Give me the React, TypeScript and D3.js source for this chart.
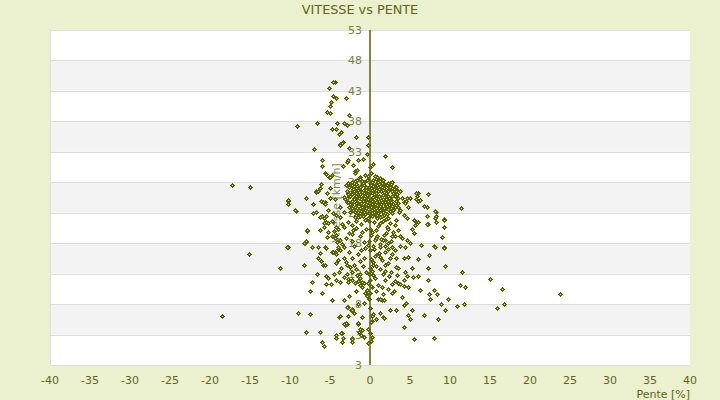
import { useEffect } from "react";
import * as d3 from "d3";

type Pt = [number, number]; // [pente %, vitesse km/h]

const xTickValues = [-40, -35, -30, -25, -20, -15, -10, -5, 0, 5, 10, 15, 20, 25, 30, 35, 40];
const yTickValues = [-2, 3, 8, 13, 18, 23, 28, 33, 38, 43, 48, 53];
const yTickLabels = ["3", "3", "8", "13", "18", "23", "28", "33", "38", "43", "48", "53"];

// dense core around 0% slope
const corePoints: Pt[] = [
  [-2.4, 27.8], [-1.9, 28.2], [-1.3, 28.5], [-0.7, 28.1], [-0.2, 28.6], [0.4, 28.3], [1.0, 28.0], [1.6, 28.4], [2.2, 27.9],
  [-2.6, 27.2], [-2.0, 27.4], [-1.5, 27.0], [-1.0, 27.5], [-0.5, 27.2], [0.1, 27.6], [0.6, 27.1], [1.2, 27.4], [1.8, 27.0], [2.5, 27.3], [3.0, 26.9],
  [-2.3, 26.6], [-1.8, 26.3], [-1.2, 26.7], [-0.8, 26.2], [-0.3, 26.5], [0.3, 26.8], [0.8, 26.3], [1.4, 26.6], [2.0, 26.2], [2.7, 26.5],
  [-2.5, 25.8], [-2.0, 25.5], [-1.4, 25.9], [-0.9, 25.6], [-0.4, 25.9], [0.2, 25.4], [0.7, 25.8], [1.3, 25.5], [1.9, 25.9], [2.4, 25.4], [3.1, 25.7],
  [-2.2, 25.0], [-1.6, 24.8], [-1.1, 25.2], [-0.6, 24.9], [0.0, 25.1], [0.5, 24.7], [1.1, 25.0], [1.7, 24.6], [2.3, 24.9], [2.9, 24.5],
  [-2.4, 24.2], [-1.9, 24.0], [-1.3, 24.4], [-0.8, 24.1], [-0.2, 24.3], [0.4, 23.9], [0.9, 24.2], [1.5, 23.8], [2.1, 24.1], [2.6, 23.7],
  [-2.1, 23.4], [-1.5, 23.2], [-1.0, 23.6], [-0.4, 23.3], [0.2, 23.5], [0.8, 23.1], [1.3, 23.4], [1.9, 23.0], [2.5, 23.3],
  [-1.8, 22.6], [-1.2, 22.4], [-0.6, 22.8], [0.0, 22.5], [0.6, 22.7], [1.2, 22.3], [1.7, 22.6], [2.3, 22.2],
  [-1.7, 27.7], [-0.9, 27.9], [0.0, 27.9], [0.8, 27.7], [1.5, 27.8], [-2.1, 26.9], [-1.4, 26.4], [-0.6, 26.9], [0.5, 26.5], [1.1, 26.9], [1.7, 26.4], [2.3, 26.8],
  [-1.7, 25.3], [-0.7, 25.4], [0.4, 25.6], [1.0, 25.3], [1.6, 25.2], [2.6, 25.1], [-1.6, 24.4], [-0.5, 24.5], [0.6, 24.4], [1.2, 24.6], [2.0, 24.4],
  [-1.3, 23.8], [-0.7, 23.7], [0.5, 23.6], [1.1, 23.8], [1.7, 23.5], [-0.9, 22.9], [0.3, 23.0], [0.9, 22.6], [-2.7, 24.7], [-2.8, 26.0],
  [3.3, 24.2], [3.4, 26.1], [2.8, 28.0], [-3.0, 27.6], [-3.1, 25.2], [3.6, 23.2],
  [4.4, 24.55], [5.0, 25.5], [4.0, 25.5], [3.5, 24.0], [4.5, 25.0], [3.3, 27.3], [3.8, 26.5], [5.7, 25.2], [6.0, 24.9], [5.8, 26.2],
];

const coreDense: Pt[] = [
  [-2.2, 28.0], [-1.6, 28.3], [-1.0, 28.2], [-0.4, 28.4], [0.2, 28.1], [0.7, 28.5], [1.3, 28.2], [1.9, 27.6], [2.6, 27.7],
  [-2.3, 27.5], [-1.8, 27.1], [-1.2, 27.2], [-0.7, 27.6], [-0.1, 27.3], [0.4, 27.4], [0.9, 27.5], [1.5, 27.2], [2.1, 27.5], [2.8, 27.1],
  [-2.0, 26.6], [-1.5, 26.8], [-1.0, 26.4], [-0.5, 26.7], [0.0, 26.4], [0.5, 26.9], [1.0, 26.6], [1.6, 26.8], [2.2, 26.5], [2.9, 26.3],
  [-2.3, 26.1], [-1.7, 25.8], [-1.2, 26.1], [-0.6, 25.8], [-0.1, 26.1], [0.5, 26.1], [1.1, 25.8], [1.6, 25.9], [2.2, 25.7], [2.8, 25.8],
  [-2.0, 25.2], [-1.4, 25.4], [-0.9, 25.0], [-0.3, 25.3], [0.3, 25.0], [0.8, 25.4], [1.4, 25.1], [2.0, 25.2], [2.6, 24.8], [3.2, 25.0],
  [-2.5, 24.5], [-1.8, 24.6], [-1.1, 24.6], [-0.4, 24.7], [0.2, 24.5], [0.8, 24.8], [1.4, 24.4], [1.9, 24.7], [2.4, 24.3], [3.0, 24.0],
  [-2.2, 23.8], [-1.6, 23.7], [-1.0, 24.0], [-0.5, 23.8], [0.1, 24.0], [0.7, 23.7], [1.2, 24.1], [1.8, 23.8], [2.3, 23.6], [2.9, 23.5],
  [-1.9, 23.1], [-1.3, 23.0], [-0.7, 23.2], [-0.1, 23.0], [0.5, 23.2], [1.0, 22.9], [1.6, 23.2], [2.1, 22.8], [2.7, 22.9],
  [-1.5, 22.3], [-0.9, 22.5], [-0.3, 22.2], [0.3, 22.4], [0.9, 22.2], [1.5, 22.4], [2.0, 22.0],
  [-2.7, 27.9], [-2.9, 26.6], [-2.9, 25.5], [-2.6, 23.9], [3.5, 25.5], [3.2, 26.6], [3.1, 23.9], [3.5, 24.6], [-0.3, 29.0], [0.6, 29.1], [1.2, 28.7],
];

const axisPoints: Pt[] = [
  [0.0, 30.5], [0.1, 29.6], [-0.1, 21.6], [0.0, 20.4], [0.1, 19.4], [-0.1, 18.3], [0.0, 16.8], [0.1, 15.4], [0.0, 14.0],
  [-0.1, 12.9], [0.0, 11.9], [0.1, 10.9], [0.0, 9.9], [-0.1, 8.8], [0.0, 7.4], [0.1, 5.1], [0.0, 3.3], [-0.2, 1.6],
];

const upperPoints: Pt[] = [
  [1.9, 32.3], [0.4, 31.0], [2.8, 30.5], [-4.4, 44.5], [-4.6, 44.4], [-5.1, 43.4], [-4.6, 42.2], [-4.3, 41.8], [-4.9, 41.2],
  [-5.0, 40.6], [-3.0, 41.8], [-5.4, 39.6], [-5.0, 39.4], [-2.6, 39.0], [-9.1, 37.3], [-6.6, 37.7], [-4.1, 37.8], [-3.2, 37.7],
  [-2.9, 37.4], [-4.8, 36.7], [-4.3, 36.8], [-3.6, 36.2], [-3.9, 36.0], [-1.8, 35.4], [-0.2, 35.5], [-3.4, 34.6], [-3.75, 34.3],
  [-7.0, 33.4], [-2.6, 33.6], [-0.25, 34.1], [-0.4, 32.6], [-0.9, 31.9], [-1.5, 31.6], [-2.75, 31.6], [-6.0, 31.7], [-6.0, 30.7],
  [-2.1, 30.8], [-1.6, 30.0], [-2.9, 31.3], [-3.4, 30.7], [-5.6, 29.5], [-5.1, 28.8], [-1.9, 29.8], [-0.6, 29.2], [-3.8, 34.1],
  [-3.5, 34.5], [-5.5, 29.3], [-4.8, 29.2], [-5.0, 28.9], [0.9, 28.8], [-1.9, 29.5], [-1.25, 28.9],
];

const leftPoints: Pt[] = [
  [-6.1, 27.7], [-6.7, 26.4], [-5.0, 27.1], [-17.2, 27.5], [-15.0, 27.3], [-8.0, 25.5], [-10.2, 25.0], [-10.3, 24.4], [-7.1, 24.4],
  [-6.1, 24.9], [-5.6, 24.8], [-5.0, 25.5], [-4.4, 25.2], [-5.4, 26.3], [-9.3, 23.3], [-6.7, 23.2], [-6.0, 22.5], [-5.5, 22.4],
  [-5.75, 21.3], [-5.2, 21.3], [-4.6, 21.5], [-7.9, 20.0], [-5.2, 19.9], [-5.4, 19.0], [-4.7, 19.1], [-3.5, 21.1], [-4.25, 19.3],
  [-8.0, 18.2], [-8.1, 18.0], [-10.3, 17.3], [-15.1, 16.2], [-7.3, 17.3], [-6.5, 17.3], [-5.6, 17.3], [-6.25, 16.4], [-4.7, 16.6],
  [-4.4, 16.6], [-4.0, 17.0], [-6.5, 15.5], [-6.1, 15.0], [-5.9, 14.4], [-5.6, 14.4], [-8.3, 14.4], [-11.3, 14.0], [-4.0, 15.2],
  [-2.9, 14.4], [-6.6, 12.9], [-5.5, 12.6], [-4.5, 12.9], [-3.9, 13.3], [-3.25, 12.5], [-5.2, 12.3], [-7.3, 11.6], [-4.2, 11.9],
  [-3.75, 11.6], [-5.5, 11.3], [-4.9, 11.3], [-6.0, 9.8], [-7.5, 10.1], [-2.8, 11.7], [-4.7, 8.7], [-3.3, 8.7], [-2.8, 7.6],
  [-2.3, 7.2], [-9.0, 6.6], [-7.5, 6.3], [-18.5, 6.0], [-3.85, 5.9], [-2.8, 6.0], [-3.1, 4.6], [-2.9, 4.8], [-1.5, 4.8],
  [-8.0, 3.4], [-6.3, 3.4], [-4.3, 2.9], [-3.5, 3.3], [-3.4, 2.5], [-2.3, 2.5], [-6.0, 1.7], [-5.8, 1.1], [-1.1, 2.9], [-1.0, 3.7],
  [-1.6, 12.7], [-1.3, 12.3], [-1.5, 11.8], [-1.0, 11.6], [-0.3, 11.4], [-1.85, 11.4], [-2.0, 14.4], [-3.3, 15.5],
  [-4.3, 2.5], [-3.5, 1.8], [-2.3, 2.2], [-2.2, 1.8], [-0.2, 3.9], [-1.25, 3.9], [-1.4, 3.5], [-0.7, 2.6], [0.1, 1.9], [-1.5, 4.9],
  [-3.6, 3.2], [-3.2, 4.7], [-3.0, 4.95], [-2.4, 7.1], [-2.3, 7.0], [-3.3, 8.6], [-1.5, 8.0], [-2.9, 7.5], [-3.8, 6.0], [-4.7, 8.6],
  [-0.4, 9.4], [-0.3, 10.0], [-0.6, 9.8], [-1.0, 10.85], [-0.75, 11.5], [-1.2, 11.1], [-2.9, 13.0], [-2.3, 13.3], [-2.8, 12.2], [-2.2, 11.9],
  [-6.25, 27.0], [-6.8, 26.5], [-6.5, 26.6], [-7.1, 24.5], [-5.9, 24.8], [-5.6, 24.4], [-8.0, 25.4], [-10.3, 25.1], [-9.4, 23.4],
  [-7.1, 23.0], [-5.2, 23.4], [-4.6, 22.9], [-4.2, 22.6], [-7.9, 20.2], [-8.2, 18.1], [-8.0, 18.4], [-6.25, 22.3], [-5.75, 22.2],
  [-5.5, 21.5], [-5.7, 20.6], [-6.25, 20.2], [-4.2, 20.7], [-4.0, 20.3], [-4.4, 18.8], [-3.8, 18.5], [-3.5, 17.9], [-4.0, 17.3],
  [-10.4, 17.3], [-7.3, 17.4], [-5.5, 17.2], [-4.6, 16.6], [-4.25, 16.3], [-3.75, 16.9],
  [-2.9, 24.8], [-2.3, 24.55], [-2.5, 23.2], [-1.9, 22.3], [-2.3, 21.0], [-2.1, 20.2], [-2.2, 19.5], [-1.25, 19.1], [-0.8, 18.2],
  [-1.5, 16.3], [-0.2, 17.7], [-2.3, 28.1], [-1.7, 27.0], [-2.7, 26.2], [-3.3, 25.6], [-3.75, 24.0], [-3.3, 23.2],
  [-0.6, 21.8], [-1.1, 21.2], [-1.8, 21.7], [-2.8, 21.5], [-3.2, 20.6], [-0.5, 20.3], [-1.0, 19.8], [-1.7, 20.5], [-2.6, 19.6],
  [-3.0, 18.8], [-0.6, 17.2], [-1.1, 16.8], [-2.0, 17.6], [-2.6, 16.5], [-3.3, 17.4], [-0.7, 15.6], [-1.3, 15.1], [-2.2, 15.5],
  [-3.0, 14.9], [-0.9, 14.2], [-1.8, 13.7], [-2.5, 14.1], [-3.6, 13.9], [-4.3, 14.8], [-0.5, 13.3], [-1.2, 12.9], [-4.1, 18.2],
  [-4.5, 20.0], [-4.8, 21.7], [-3.8, 22.3], [-2.3, 18.4], [-0.4, 10.3], [-1.8, 10.2], [-2.6, 9.3], [-0.8, 8.1], [-2.0, 6.6], [-1.0, 5.8],
];

const rightPoints: Pt[] = [
  [7.2, 26.0], [6.0, 26.3], [5.9, 25.8], [6.8, 24.05], [11.4, 23.7], [8.3, 23.1], [8.1, 22.2], [9.3, 21.9], [7.2, 21.2], [9.3, 20.6],
  [9.0, 19.0], [5.8, 21.5], [5.5, 19.6], [8.0, 17.6], [9.2, 17.3], [7.4, 16.0], [6.0, 15.4], [6.4, 17.7], [5.0, 18.1], [9.4, 14.2],
  [7.3, 13.9], [5.2, 13.9], [11.5, 13.2], [15.0, 12.2], [6.0, 12.6], [7.3, 11.9], [11.2, 11.1], [11.9, 10.8], [16.5, 10.4], [23.7, 9.6],
  [6.2, 10.3], [8.0, 10.3], [7.4, 9.7], [8.4, 9.6], [9.8, 8.8], [7.5, 8.8], [8.9, 8.0], [10.9, 7.7], [11.7, 8.0], [16.8, 8.0],
  [15.9, 7.3], [9.4, 7.0], [6.8, 6.2], [5.3, 7.0], [4.8, 6.2], [5.0, 5.5], [8.5, 5.5], [4.2, 4.2], [5.5, 2.2], [8.0, 2.4],
  [3.3, 7.1], [2.5, 7.1], [4.5, 8.1], [4.2, 7.9], [4.0, 9.1], [2.8, 9.8], [1.7, 8.6], [1.0, 8.9], [1.3, 8.8], [0.4, 6.3],
  [1.2, 6.5], [1.6, 5.8], [0.8, 5.5], [0.3, 5.2], [0.2, 2.6], [4.2, 10.9], [4.8, 10.8], [3.5, 11.4], [2.8, 11.3], [3.1, 11.8],
  [4.3, 11.9], [3.8, 11.3], [2.2, 10.5], [1.5, 10.8], [0.2, 10.8], [1.9, 12.0], [4.6, 12.6], [4.4, 13.2], [5.4, 12.5], [3.5, 13.9],
  [3.2, 14.1], [1.9, 13.5], [1.6, 13.0], [0.4, 12.7], [0.75, 14.2], [1.9, 14.4], [0.2, 13.5], [4.25, 15.5], [4.7, 15.7], [3.25, 15.5],
  [2.75, 16.3], [1.9, 16.5], [1.25, 15.7], [0.8, 16.0], [0.4, 14.9], [4.4, 17.3], [3.7, 17.6], [2.75, 17.3], [1.9, 18.5], [2.6, 18.3],
  [3.1, 19.1], [4.0, 18.9], [0.8, 18.8], [0.4, 17.5], [1.25, 17.8], [1.9, 17.5], [2.3, 17.1], [1.6, 18.5],
  [0.3, 6.0], [1.7, 5.7], [1.5, 8.7], [1.8, 8.7],
  [1.5, 28.1], [2.5, 27.8], [3.1, 27.3], [3.4, 26.8], [5.8, 26.3], [6.2, 25.1], [7.1, 24.0], [8.1, 23.3], [9.25, 21.8], [9.2, 20.6],
  [7.1, 22.5], [8.25, 22.5], [8.3, 21.4], [9.2, 17.2], [8.1, 17.4], [7.1, 21.1], [4.6, 25.4], [4.25, 24.8], [4.8, 24.0], [5.5, 21.8],
  [5.6, 21.0], [6.0, 21.5], [5.2, 20.4], [3.75, 23.4], [4.2, 22.6], [4.6, 22.1], [3.3, 21.8], [3.1, 21.0], [2.5, 21.3], [3.5, 20.2],
  [2.1, 20.7], [1.25, 21.3], [0.8, 20.2], [1.7, 19.3], [2.7, 19.1], [3.75, 19.1], [4.6, 18.5], [2.3, 18.0], [1.25, 17.4], [0.6, 18.5],
  [0.5, 21.4], [1.0, 20.9], [1.6, 21.6], [2.2, 20.4], [0.3, 19.8], [0.9, 19.2], [1.4, 18.7], [2.0, 19.6], [2.9, 19.9], [0.5, 17.0],
  [1.1, 16.4], [2.5, 15.6], [3.1, 16.9], [0.6, 15.9], [1.5, 15.2], [2.2, 14.7], [0.4, 14.4], [1.2, 13.8], [2.6, 13.2], [3.4, 12.8],
  [0.6, 12.3], [1.0, 11.2], [2.4, 12.6], [0.8, 10.2], [1.6, 9.6], [3.0, 10.2],
];

const allPoints: Pt[] = [...leftPoints, ...upperPoints, ...rightPoints, ...axisPoints, ...corePoints, ...coreDense];

const W = 720;
const H = 400;
const plot = { left: 50, right: 690, top: 30, bottom: 365 };
const font = "DejaVu Sans, Verdana, sans-serif";
const textColor = "#5f651d";

export default function App() {
  useEffect(() => {
    document.body.style.margin = "0";
  }, []);

  const x = d3.scaleLinear().domain([-40, 40]).range([plot.left, plot.right]);
  const y = d3.scaleLinear().domain([-2, 53]).range([plot.bottom, plot.top]);

  // small plus-shaped marker: dark ring, light centre pixel
  const marker = (cx: number, cy: number) =>
    `M${cx - 0.5},${cy - 2.5}h1v1h1v1h1v1h-1v1h-1v1h-1v-1h-1v-1h-1v-1h1v-1h1z`;

  const bands = d3.pairs(yTickValues);

  return (
    <svg width={W} height={H} style={{ display: "block", fontFamily: font }}>
      <rect x={0} y={0} width={W} height={H} fill="#ebf0cf" />
      <rect
        x={plot.left}
        y={plot.top}
        width={plot.right - plot.left}
        height={plot.bottom - plot.top}
        fill="#ffffff"
      />
      {bands.map(([a, b], i) =>
        i % 2 === 1 ? (
          <rect
            key={a}
            x={plot.left}
            y={y(b)}
            width={plot.right - plot.left}
            height={y(a) - y(b)}
            fill="#f3f3f3"
          />
        ) : null
      )}
      {yTickValues.map((v) => (
        <line
          key={v}
          x1={plot.left}
          x2={plot.right}
          y1={Math.round(y(v)) + 0.5}
          y2={Math.round(y(v)) + 0.5}
          stroke="#dcdcdc"
          strokeWidth={1}
        />
      ))}
      <line x1={plot.left + 0.5} x2={plot.left + 0.5} y1={plot.top} y2={plot.bottom} stroke="#dcdcdc" />

      {yTickValues.map((v, i) => (
        <text
          key={v}
          x={x(0) - 8}
          y={y(v) + 4}
          textAnchor="end"
          fontSize={11}
          fill="#7c7f45"
        >
          {yTickLabels[i]}
        </text>
      ))}

      <g shapeRendering="crispEdges">
        {allPoints.map(([px, py], i) => {
          const cx = Math.round(x(px)) + 0.5;
          const cy = Math.round(y(py)) + 0.5;
          return (
            <g key={i}>
              <path d={marker(cx, cy)} fill="#5a6400" />
              <rect x={cx - 0.5} y={cy - 0.5} width={1} height={1} fill="#e3ea9c" />
            </g>
          );
        })}
      </g>

      <text
        transform={`translate(${x(-3.8)},${y(24.6)}) rotate(-90)`}
        textAnchor="middle"
        fontSize={11}
        fill="#6a6d2c"
        fillOpacity={0.85}
      >
        Vitesse [km/h]
      </text>

      <line
        x1={x(0)}
        x2={x(0)}
        y1={plot.top}
        y2={plot.bottom}
        stroke="#5b6400"
        strokeWidth={1.5}
      />

      {xTickValues.map((v) => (
        <text key={v} x={x(v)} y={384} textAnchor="middle" fontSize={11} fill={textColor}>
          {v}
        </text>
      ))}
      <text x={plot.right} y={398} textAnchor="end" fontSize={11} fill={textColor}>
        Pente [%]
      </text>
      <text x={W / 2} y={14} textAnchor="middle" fontSize={12.8} fill={textColor}>
        VITESSE vs PENTE
      </text>
    </svg>
  );
}
